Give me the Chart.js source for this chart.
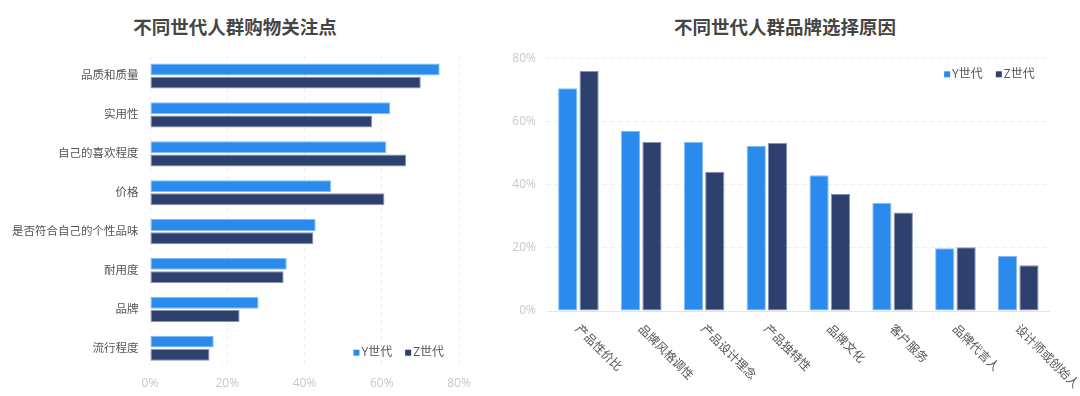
<!DOCTYPE html>
<html>
<head>
<meta charset="utf-8">
<script src="https://cdn.jsdelivr.net/npm/chart.js@4"></script>
<style>
  html, body { margin: 0; padding: 0; background: #ffffff; }
  #wrap { position: relative; width: 1080px; height: 396px; overflow: hidden; background: #fff; }
  .title { position: absolute; top: 13px; font-family: "Noto Sans CJK SC", sans-serif; font-weight: bold; font-size: 18.5px; color: #454545; text-align: center; line-height: 26px; }
  canvas { position: absolute; top: 0; }
</style>
</head>
<body>
<div id="wrap">
  <div class="title" style="left:35px;width:400px;">不同世代人群购物关注点</div>
  <div class="title" style="left:585px;width:400px;">不同世代人群品牌选择原因</div>
  <canvas id="left" width="500" height="396" style="left:0;"></canvas>
  <canvas id="right" width="580" height="396" style="left:500px;"></canvas>
</div>
<script>
// ---------- data ----------
const seriesNames = ['Y世代', 'Z世代'];

const focusCategories = ['品质和质量', '实用性', '自己的喜欢程度', '价格', '是否符合自己的个性品味', '耐用度', '品牌', '流行程度'];
const focusY = [75.0, 62.2, 61.2, 46.9, 42.9, 35.4, 28.1, 16.5];
const focusZ = [70.1, 57.5, 66.3, 60.7, 42.3, 34.6, 23.2, 15.4];

const brandCategories = ['产品性价比', '品牌风格调性', '产品设计理念', '产品独特性', '品牌文化', '客户服务', '品牌代言人', '设计师或创始人'];
const brandY = [70.5, 57.0, 53.5, 52.2, 43.0, 34.3, 19.9, 17.4];
const brandZ = [76.0, 53.5, 44.1, 53.2, 37.1, 31.2, 20.2, 14.5];

const percentTicks = ['0%', '20%', '40%', '60%', '80%'];

// ---------- styles ----------
const FONT = '"Open Sans", "Noto Sans CJK SC", sans-serif';
const COLOR_Y = '#2b8bec';
const COLOR_Z = '#2e406d';
const BORDER_Y = '#86bcf3';
const BORDER_Z = '#8693b3';

function tickLabel(v) {
  const idx = Math.round(v / 20);
  return percentTicks[idx] !== undefined ? percentTicks[idx] : v + '%';
}

function makeDatasets(yVals, zVals) {
  return [
    { label: seriesNames[0], data: yVals, backgroundColor: COLOR_Y, borderColor: BORDER_Y, borderWidth: 1, borderSkipped: false,
      categoryPercentage: 0.68, barPercentage: 0.9 },
    { label: seriesNames[1], data: zVals, backgroundColor: COLOR_Z, borderColor: BORDER_Z, borderWidth: 1, borderSkipped: false,
      categoryPercentage: 0.68, barPercentage: 0.9 }
  ];
}

// custom legend drawn inside chart area
function legendPlugin(corner) {
  return {
    id: 'cornerLegend',
    afterDraw(chart) {
      const ctx = chart.ctx;
      const ca = chart.chartArea;
      ctx.save();
      ctx.font = '12px ' + FONT;
      ctx.textBaseline = 'middle';
      ctx.textAlign = 'left';
      const sq = 6, gapSq = 2, gapItem = 13;
      const items = chart.data.datasets.map(d => ({ label: d.label, color: d.backgroundColor, w: ctx.measureText(d.label).width }));
      let total = 0;
      items.forEach((it, i) => { total += sq + gapSq + it.w + (i < items.length - 1 ? gapItem : 0); });
      let x = ca.right - 15 - total;
      const y = corner === 'bottom' ? ca.bottom - 15 : ca.top + 16;
      items.forEach(it => {
        ctx.fillStyle = it.color;
        ctx.fillRect(x, y - sq / 2, sq, sq);
        x += sq + gapSq;
        ctx.fillStyle = '#555555';
        ctx.fillText(it.label, x, y);
        x += it.w + gapItem;
      });
      ctx.restore();
    }
  };
}

// rotated category labels for the right chart
const slantLabels = {
  id: 'slantLabels',
  afterDraw(chart) {
    const ctx = chart.ctx;
    const sx = chart.scales.x;
    const bottom = chart.chartArea.bottom;
    ctx.save();
    ctx.font = '12px ' + FONT;
    ctx.fillStyle = '#555555';
    ctx.textAlign = 'left';
    ctx.textBaseline = 'middle';
    chart.data.labels.forEach((lab, i) => {
      const x = sx.getPixelForTick(i);
      ctx.save();
      ctx.translate(x - 1.3, bottom + 16);
      ctx.rotate(Math.PI / 4);
      ctx.fillText(lab, 0, 0);
      ctx.restore();
    });
    ctx.restore();
  }
};

// ---------- left chart ----------
new Chart(document.getElementById('left'), {
  type: 'bar',
  data: { labels: focusCategories, datasets: makeDatasets(focusY, focusZ) },
  options: {
    responsive: false,
    animation: false,
    indexAxis: 'y',
    layout: { padding: { top: 56.6, right: 41, bottom: 0, left: 0 } },
    plugins: { legend: { display: false }, tooltip: { enabled: false }, title: { display: false } },
    scales: {
      x: {
        min: 0, max: 80,
        ticks: { stepSize: 20, callback: tickLabel, color: '#c9c9c9', font: { family: FONT, size: 12 }, padding: 9 },
        grid: { color: '#ebebeb', drawTicks: false },
        border: { display: false, dash: [4, 4] },
        afterFit(s) { s.height = 28.3; }
      },
      y: {
        ticks: { color: '#555555', font: { family: FONT, size: 11.5 }, padding: 11.5 },
        grid: { display: false, drawTicks: false },
        border: { display: false },
        afterFit(s) { s.width = 150; }
      }
    }
  },
  plugins: [legendPlugin('bottom')]
});

// ---------- right chart ----------
new Chart(document.getElementById('right'), {
  type: 'bar',
  data: { labels: brandCategories, datasets: makeDatasets(brandY, brandZ) },
  options: {
    responsive: false,
    animation: false,
    layout: { padding: { top: 58.3, right: 30.3, bottom: 0, left: 0 } },
    plugins: { legend: { display: false }, tooltip: { enabled: false }, title: { display: false } },
    scales: {
      x: {
        ticks: { display: false },
        grid: { display: false, drawTicks: false },
        border: { display: true, color: '#e6e6e6', width: 1 },
        afterFit(s) { s.height = 85; }
      },
      y: {
        min: 0, max: 80,
        ticks: { stepSize: 20, callback: tickLabel, color: '#c9c9c9', font: { family: FONT, size: 12 }, padding: 11 },
        grid: { color: '#eeeeee', drawTicks: false },
        border: { display: false, dash: [4, 4] },
        afterFit(s) { s.width = 47; }
      }
    }
  },
  plugins: [legendPlugin('top'), slantLabels]
});
</script>
</body>
</html>
